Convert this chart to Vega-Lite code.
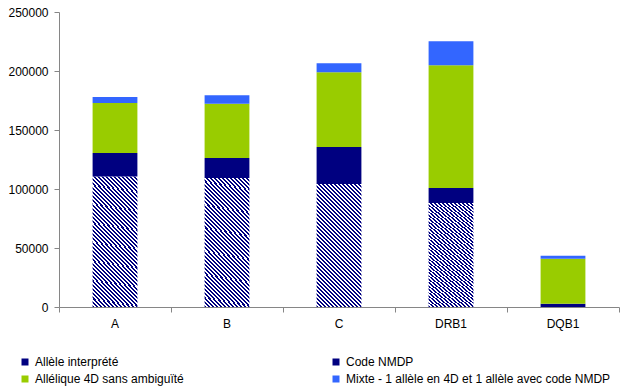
{
  "$schema": "https://vega.github.io/schema/vega-lite/v6.json",
  "width": 560,
  "height": 295,
  "autosize": {"type": "none"},
  "padding": {"left": 59, "top": 12, "right": 10, "bottom": 84},
  "background": "white",
  "config": {"view": {"stroke": null}, "font": "Liberation Sans"},
  "data": {"values": [
    {"gene": "A", "type": "Allèle interprété", "n": 110500, "k": 1},
    {"gene": "A", "type": "Code NMDP", "n": 20000, "k": 2},
    {"gene": "A", "type": "Allélique 4D sans ambiguïté", "n": 42300, "k": 3},
    {"gene": "A", "type": "Mixte - 1 allèle en 4D et 1 allèle avec code NMDP", "n": 5100, "k": 4},
    {"gene": "B", "type": "Allèle interprété", "n": 109400, "k": 1},
    {"gene": "B", "type": "Code NMDP", "n": 16900, "k": 2},
    {"gene": "B", "type": "Allélique 4D sans ambiguïté", "n": 45900, "k": 3},
    {"gene": "B", "type": "Mixte - 1 allèle en 4D et 1 allèle avec code NMDP", "n": 7300, "k": 4},
    {"gene": "C", "type": "Allèle interprété", "n": 104300, "k": 1},
    {"gene": "C", "type": "Code NMDP", "n": 31300, "k": 2},
    {"gene": "C", "type": "Allélique 4D sans ambiguïté", "n": 63400, "k": 3},
    {"gene": "C", "type": "Mixte - 1 allèle en 4D et 1 allèle avec code NMDP", "n": 7600, "k": 4},
    {"gene": "DRB1", "type": "Allèle interprété", "n": 88200, "k": 1},
    {"gene": "DRB1", "type": "Code NMDP", "n": 12700, "k": 2},
    {"gene": "DRB1", "type": "Allélique 4D sans ambiguïté", "n": 104000, "k": 3},
    {"gene": "DRB1", "type": "Mixte - 1 allèle en 4D et 1 allèle avec code NMDP", "n": 20300, "k": 4},
    {"gene": "DQB1", "type": "Code NMDP", "n": 2800, "k": 2},
    {"gene": "DQB1", "type": "Allélique 4D sans ambiguïté", "n": 38000, "k": 3},
    {"gene": "DQB1", "type": "Mixte - 1 allèle en 4D et 1 allèle avec code NMDP", "n": 2600, "k": 4}
  ]},
  "mark": {"type": "bar", "width": {"band": 0.4}},
  "encoding": {
    "x": {
      "field": "gene", "type": "nominal", "sort": ["A", "B", "C", "DRB1", "DQB1"],
      "scale": {"paddingInner": 0, "paddingOuter": 0},
      "axis": {"title": null, "labelAngle": 0, "bandPosition": 1, "tickExtra": true, "tickSize": 5, "tickColor": "#868686", "domainColor": "#868686", "labelColor": "#000000", "labelFontSize": 12, "labelFont": "Liberation Sans", "labelPadding": 6}
    },
    "y": {
      "field": "n", "type": "quantitative", "stack": "zero",
      "scale": {"domain": [0, 250000], "nice": false},
      "axis": {"title": null, "values": [0, 50000, 100000, 150000, 200000, 250000], "format": "d", "grid": false, "tickSize": 5, "tickColor": "#868686", "domainColor": "#868686", "labelColor": "#000000", "labelFontSize": 12, "labelFont": "Liberation Sans", "labelPadding": 6}
    },
    "order": {"field": "k", "type": "quantitative", "sort": "ascending"},
    "color": {
      "field": "type", "type": "nominal",
      "scale": {
        "domain": ["Allèle interprété", "Code NMDP", "Allélique 4D sans ambiguïté", "Mixte - 1 allèle en 4D et 1 allèle avec code NMDP"],
        "range": ["#000080", "#000080", "#99CC00", "#3366FF"]
      },
      "condition": {
        "test": "datum.type === 'Allèle interprété'",
        "value": {"gradient": "linear", "x1": 0, "y1": 1, "x2": 0.4334, "y2": -0.204, "stops": [
          {"offset":0,"color":"#000080"},
          {"offset":0.0119,"color":"#000080"},{"offset":0.0119,"color":"#ffffff"},
          {"offset":0.0238,"color":"#ffffff"},{"offset":0.0238,"color":"#000080"},
          {"offset":0.0357,"color":"#000080"},{"offset":0.0357,"color":"#ffffff"},
          {"offset":0.0476,"color":"#ffffff"},{"offset":0.0476,"color":"#000080"},
          {"offset":0.0595,"color":"#000080"},{"offset":0.0595,"color":"#ffffff"},
          {"offset":0.0714,"color":"#ffffff"},{"offset":0.0714,"color":"#000080"},
          {"offset":0.0833,"color":"#000080"},{"offset":0.0833,"color":"#ffffff"},
          {"offset":0.0952,"color":"#ffffff"},{"offset":0.0952,"color":"#000080"},
          {"offset":0.1071,"color":"#000080"},{"offset":0.1071,"color":"#ffffff"},
          {"offset":0.1190,"color":"#ffffff"},{"offset":0.1190,"color":"#000080"},
          {"offset":0.1310,"color":"#000080"},{"offset":0.1310,"color":"#ffffff"},
          {"offset":0.1429,"color":"#ffffff"},{"offset":0.1429,"color":"#000080"},
          {"offset":0.1548,"color":"#000080"},{"offset":0.1548,"color":"#ffffff"},
          {"offset":0.1667,"color":"#ffffff"},{"offset":0.1667,"color":"#000080"},
          {"offset":0.1786,"color":"#000080"},{"offset":0.1786,"color":"#ffffff"},
          {"offset":0.1905,"color":"#ffffff"},{"offset":0.1905,"color":"#000080"},
          {"offset":0.2024,"color":"#000080"},{"offset":0.2024,"color":"#ffffff"},
          {"offset":0.2143,"color":"#ffffff"},{"offset":0.2143,"color":"#000080"},
          {"offset":0.2262,"color":"#000080"},{"offset":0.2262,"color":"#ffffff"},
          {"offset":0.2381,"color":"#ffffff"},{"offset":0.2381,"color":"#000080"},
          {"offset":0.2500,"color":"#000080"},{"offset":0.2500,"color":"#ffffff"},
          {"offset":0.2619,"color":"#ffffff"},{"offset":0.2619,"color":"#000080"},
          {"offset":0.2738,"color":"#000080"},{"offset":0.2738,"color":"#ffffff"},
          {"offset":0.2857,"color":"#ffffff"},{"offset":0.2857,"color":"#000080"},
          {"offset":0.2976,"color":"#000080"},{"offset":0.2976,"color":"#ffffff"},
          {"offset":0.3095,"color":"#ffffff"},{"offset":0.3095,"color":"#000080"},
          {"offset":0.3214,"color":"#000080"},{"offset":0.3214,"color":"#ffffff"},
          {"offset":0.3333,"color":"#ffffff"},{"offset":0.3333,"color":"#000080"},
          {"offset":0.3452,"color":"#000080"},{"offset":0.3452,"color":"#ffffff"},
          {"offset":0.3571,"color":"#ffffff"},{"offset":0.3571,"color":"#000080"},
          {"offset":0.3690,"color":"#000080"},{"offset":0.3690,"color":"#ffffff"},
          {"offset":0.3810,"color":"#ffffff"},{"offset":0.3810,"color":"#000080"},
          {"offset":0.3929,"color":"#000080"},{"offset":0.3929,"color":"#ffffff"},
          {"offset":0.4048,"color":"#ffffff"},{"offset":0.4048,"color":"#000080"},
          {"offset":0.4167,"color":"#000080"},{"offset":0.4167,"color":"#ffffff"},
          {"offset":0.4286,"color":"#ffffff"},{"offset":0.4286,"color":"#000080"},
          {"offset":0.4405,"color":"#000080"},{"offset":0.4405,"color":"#ffffff"},
          {"offset":0.4524,"color":"#ffffff"},{"offset":0.4524,"color":"#000080"},
          {"offset":0.4643,"color":"#000080"},{"offset":0.4643,"color":"#ffffff"},
          {"offset":0.4762,"color":"#ffffff"},{"offset":0.4762,"color":"#000080"},
          {"offset":0.4881,"color":"#000080"},{"offset":0.4881,"color":"#ffffff"},
          {"offset":0.5000,"color":"#ffffff"},{"offset":0.5000,"color":"#000080"},
          {"offset":0.5119,"color":"#000080"},{"offset":0.5119,"color":"#ffffff"},
          {"offset":0.5238,"color":"#ffffff"},{"offset":0.5238,"color":"#000080"},
          {"offset":0.5357,"color":"#000080"},{"offset":0.5357,"color":"#ffffff"},
          {"offset":0.5476,"color":"#ffffff"},{"offset":0.5476,"color":"#000080"},
          {"offset":0.5595,"color":"#000080"},{"offset":0.5595,"color":"#ffffff"},
          {"offset":0.5714,"color":"#ffffff"},{"offset":0.5714,"color":"#000080"},
          {"offset":0.5833,"color":"#000080"},{"offset":0.5833,"color":"#ffffff"},
          {"offset":0.5952,"color":"#ffffff"},{"offset":0.5952,"color":"#000080"},
          {"offset":0.6071,"color":"#000080"},{"offset":0.6071,"color":"#ffffff"},
          {"offset":0.6190,"color":"#ffffff"},{"offset":0.6190,"color":"#000080"},
          {"offset":0.6310,"color":"#000080"},{"offset":0.6310,"color":"#ffffff"},
          {"offset":0.6429,"color":"#ffffff"},{"offset":0.6429,"color":"#000080"},
          {"offset":0.6548,"color":"#000080"},{"offset":0.6548,"color":"#ffffff"},
          {"offset":0.6667,"color":"#ffffff"},{"offset":0.6667,"color":"#000080"},
          {"offset":0.6786,"color":"#000080"},{"offset":0.6786,"color":"#ffffff"},
          {"offset":0.6905,"color":"#ffffff"},{"offset":0.6905,"color":"#000080"},
          {"offset":0.7024,"color":"#000080"},{"offset":0.7024,"color":"#ffffff"},
          {"offset":0.7143,"color":"#ffffff"},{"offset":0.7143,"color":"#000080"},
          {"offset":0.7262,"color":"#000080"},{"offset":0.7262,"color":"#ffffff"},
          {"offset":0.7381,"color":"#ffffff"},{"offset":0.7381,"color":"#000080"},
          {"offset":0.7500,"color":"#000080"},{"offset":0.7500,"color":"#ffffff"},
          {"offset":0.7619,"color":"#ffffff"},{"offset":0.7619,"color":"#000080"},
          {"offset":0.7738,"color":"#000080"},{"offset":0.7738,"color":"#ffffff"},
          {"offset":0.7857,"color":"#ffffff"},{"offset":0.7857,"color":"#000080"},
          {"offset":0.7976,"color":"#000080"},{"offset":0.7976,"color":"#ffffff"},
          {"offset":0.8095,"color":"#ffffff"},{"offset":0.8095,"color":"#000080"},
          {"offset":0.8214,"color":"#000080"},{"offset":0.8214,"color":"#ffffff"},
          {"offset":0.8333,"color":"#ffffff"},{"offset":0.8333,"color":"#000080"},
          {"offset":0.8452,"color":"#000080"},{"offset":0.8452,"color":"#ffffff"},
          {"offset":0.8571,"color":"#ffffff"},{"offset":0.8571,"color":"#000080"},
          {"offset":0.8690,"color":"#000080"},{"offset":0.8690,"color":"#ffffff"},
          {"offset":0.8810,"color":"#ffffff"},{"offset":0.8810,"color":"#000080"},
          {"offset":0.8929,"color":"#000080"},{"offset":0.8929,"color":"#ffffff"},
          {"offset":0.9048,"color":"#ffffff"},{"offset":0.9048,"color":"#000080"},
          {"offset":0.9167,"color":"#000080"},{"offset":0.9167,"color":"#ffffff"},
          {"offset":0.9286,"color":"#ffffff"},{"offset":0.9286,"color":"#000080"},
          {"offset":0.9405,"color":"#000080"},{"offset":0.9405,"color":"#ffffff"},
          {"offset":0.9524,"color":"#ffffff"},{"offset":0.9524,"color":"#000080"},
          {"offset":0.9643,"color":"#000080"},{"offset":0.9643,"color":"#ffffff"},
          {"offset":0.9762,"color":"#ffffff"},{"offset":0.9762,"color":"#000080"},
          {"offset":0.9881,"color":"#000080"},{"offset":0.9881,"color":"#ffffff"},
          {"offset":1,"color":"#ffffff"}
        ]}
      },
      "legend": {
        "orient": "none", "legendX": -40, "legendY": 344,
        "direction": "horizontal", "columns": 2, "title": null,
        "symbolType": "square", "symbolSize": 49, "symbolStrokeWidth": 0,
        "labelFontSize": 12, "labelFont": "Liberation Sans", "labelColor": "#000000",
        "labelLimit": 400, "labelOffset": 4, "columnPadding": 146, "rowPadding": 5
      }
    }
  }
}
